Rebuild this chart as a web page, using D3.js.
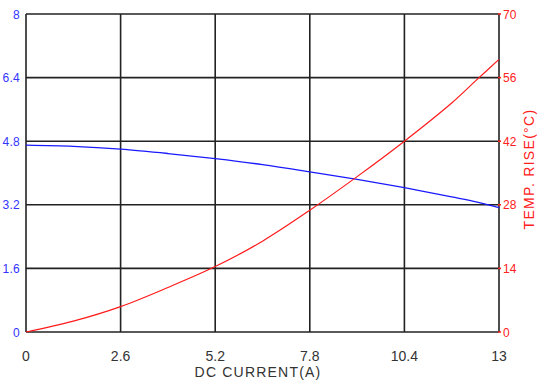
<!DOCTYPE html>
<html><head><meta charset="utf-8">
<script src="https://cdn.jsdelivr.net/npm/d3@7"></script>
<style>body{margin:0;background:#fff}svg{display:block}text{font-family:"Liberation Sans",Arial,sans-serif}</style>
</head><body><svg id="c" width="538" height="384"></svg>
<script>
const current = [0, 1.3, 2.6, 3.9, 5.2, 6.5, 7.8, 9.1, 10.4, 11.7, 12.4, 13];
const inductance = [4.70, 4.67, 4.60, 4.49, 4.36, 4.21, 4.03, 3.84, 3.63, 3.40, 3.27, 3.13];
const tempRise = [0, 2.4, 5.6, 9.8, 14.4, 20.0, 26.8, 34.2, 42.0, 50.4, 55.6, 60.0];
const xTicks = [0, 2.6, 5.2, 7.8, 10.4, 13];
const yLeftTicks = [0, 1.6, 3.2, 4.8, 6.4, 8];
const yRightTicks = [0, 14, 28, 42, 56, 70];

const svg = d3.select("#c");
const L = 26, R = 499, T = 14, B = 332;
const x = d3.scaleLinear().domain([0, 13]).range([L, R]);
const yl = d3.scaleLinear().domain([0, 8]).range([B, T]);
const yr = d3.scaleLinear().domain([0, 70]).range([B, T]);

const grid = svg.append("g").attr("stroke", "#222").attr("stroke-width", 1.6);
xTicks.forEach(t => grid.append("line").attr("x1", x(t)).attr("x2", x(t)).attr("y1", T).attr("y2", B));
yLeftTicks.forEach(t => grid.append("line").attr("x1", L).attr("x2", R).attr("y1", yl(t)).attr("y2", yl(t)));

// left axis labels
svg.append("g").selectAll("text").data(yLeftTicks).join("text")
  .attr("x", 20).attr("y", d => yl(d) + 4.5).attr("text-anchor", "end")
  .attr("font-size", 12).attr("letter-spacing", 0.3).attr("fill", "#3333ff").text(d => d);
// right axis ticks and labels
svg.append("g").selectAll("line").data(yRightTicks).join("line")
  .attr("x1", R - 1).attr("x2", R + 2).attr("y1", d => yr(d)).attr("y2", d => yr(d))
  .attr("stroke", "#ff2020").attr("stroke-width", 1.6);
svg.append("g").selectAll("text").data(yRightTicks).join("text")
  .attr("x", 503).attr("y", d => yr(d) + 4.5).attr("text-anchor", "start")
  .attr("font-size", 12).attr("fill", "#ff2020").text(d => d);
// x labels
svg.append("g").selectAll("text").data(xTicks).join("text")
  .attr("x", d => x(d)).attr("y", 361).attr("text-anchor", "middle")
  .attr("font-size", 14).attr("fill", "#333").text(d => d);

svg.append("text").attr("x", 258).attr("y", 377).attr("text-anchor", "middle")
  .attr("font-size", 14).attr("letter-spacing", 1.2).attr("fill", "#333").text("DC CURRENT(A)");
svg.append("text").attr("transform", "translate(534,169) rotate(-90)").attr("text-anchor", "middle")
  .attr("font-size", 14).attr("letter-spacing", 1.3).attr("fill", "#ff2020").text("TEMP. RISE(°C)");

const lineL = d3.line().x((d, i) => x(current[i])).y(d => yl(d)).curve(d3.curveCatmullRom);
const lineR = d3.line().x((d, i) => x(current[i])).y(d => yr(d)).curve(d3.curveCatmullRom);
svg.append("path").attr("d", lineL(inductance)).attr("fill", "none").attr("stroke", "#1a1aff").attr("stroke-width", 1.3);
svg.append("path").attr("d", lineR(tempRise)).attr("fill", "none").attr("stroke", "#ff1a1a").attr("stroke-width", 1.2);
</script></body></html>
